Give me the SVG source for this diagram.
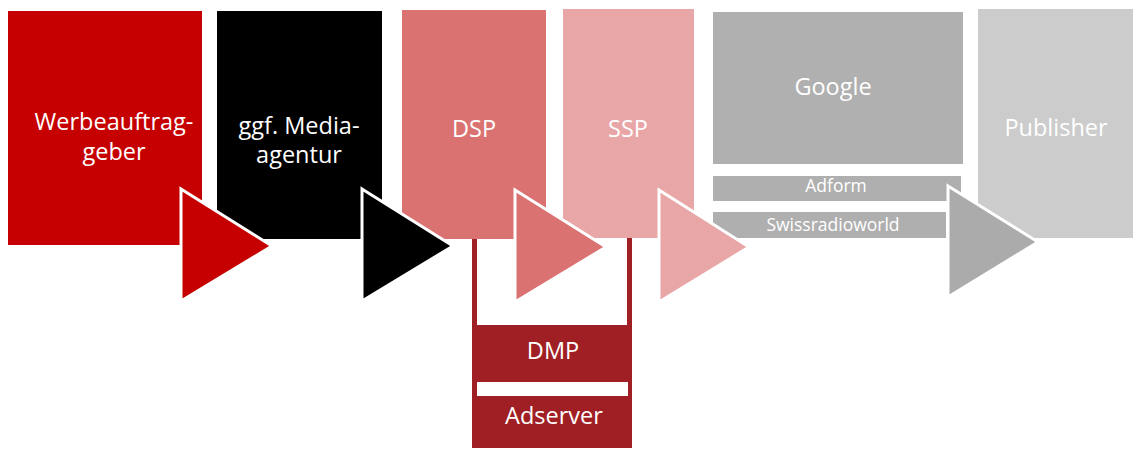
<svg xmlns="http://www.w3.org/2000/svg" width="1133" height="450" viewBox="0 0 1133 450">
<style>
.lbl{font-family:"Open Sans","Noto Sans","Liberation Sans",sans-serif;font-size:23.5px;fill:#ffffff;text-anchor:middle}
.sm{font-family:"Open Sans","Noto Sans","Liberation Sans",sans-serif;font-size:17.5px;fill:#ffffff;text-anchor:middle}
.arr{stroke:#ffffff;stroke-width:3;stroke-linejoin:miter}
</style>
<rect width="1133" height="450" fill="#ffffff"/>
<g id="werbeauftraggeber">
<rect x="8" y="11" width="194" height="234" fill="#C60000"/>
<text class="lbl" x="114" y="130">Werbeauftrag-</text>
<text class="lbl" x="114" y="160">geber</text>
</g>
<g id="mediaagentur">
<rect x="217" y="11" width="165" height="228" fill="#000000"/>
<text class="lbl" x="299" y="134">ggf. Media-</text>
<text class="lbl" x="299" y="163">agentur</text>
</g>
<g id="dmp">
<rect x="472" y="325" width="160" height="123" fill="#A01F24"/>
<rect x="477" y="382" width="151" height="14" fill="#ffffff"/>
<text class="lbl" x="553" y="359">DMP</text>
<text class="lbl" x="554" y="424">Adserver</text>
</g>
<g id="dsp">
<rect x="402" y="10" width="144" height="229" fill="#DB7272"/>
<text class="lbl" x="474" y="137">DSP</text>
</g>
<g id="ssp">
<rect x="563" y="9" width="131" height="229" fill="#E9A6A7"/>
<text class="lbl" x="628" y="137">SSP</text>
</g>
<g id="google">
<rect x="713" y="12" width="250" height="152" fill="#B0B0B0"/>
<text class="lbl" x="833" y="95">Google</text>
</g>
<g id="adform">
<rect x="713" y="176" width="248" height="25" fill="#AFAFAF"/>
<text class="sm" x="836" y="192">Adform</text>
</g>
<g id="swissradioworld">
<rect x="713" y="212" width="233" height="26" fill="#AFAFAF"/>
<text class="sm" x="833" y="231">Swissradioworld</text>
</g>
<g id="publisher">
<rect x="978" y="9" width="155" height="229" fill="#CCCCCC"/>
<text class="lbl" x="1056" y="136">Publisher</text>
</g>
<g id="connectors">
<path d="M474.5,239 V326 M629.5,238 V326" stroke="#A01F24" stroke-width="5" fill="none"/>
<path class="arr" d="M181,189 L272,246 L181,301 Z" fill="#C60000"/>
<path class="arr" d="M362,189 L453,246 L362,301 Z" fill="#000000"/>
<path class="arr" d="M515,190 L606,247 L515,302 Z" fill="#DB7272"/>
<path class="arr" d="M659,190 L749,247 L659,302 Z" fill="#E9A6A7"/>
<path class="arr" d="M948,186 L1038,242 L948,297 Z" fill="#ABABAB"/>
</g>
</svg>
